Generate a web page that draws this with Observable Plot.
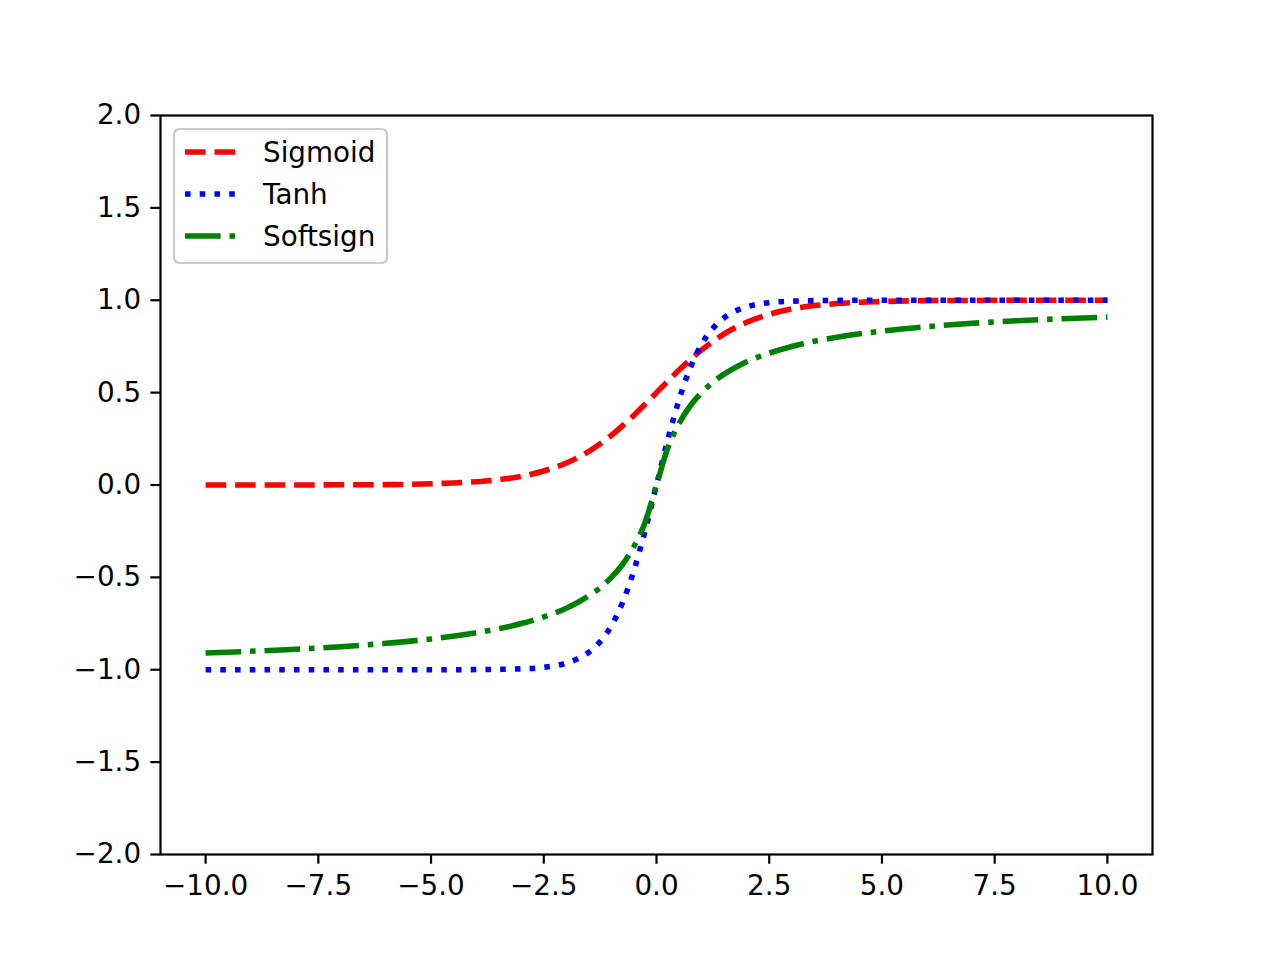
<!DOCTYPE html>
<html>
<head>
<meta charset="utf-8">
<script src="https://cdn.jsdelivr.net/npm/d3@7"></script>
<script src="https://cdn.jsdelivr.net/npm/@observablehq/plot@0.6"></script>
<style>
  html, body { margin: 0; padding: 0; background: #fff; }
  #wrap { position: relative; width: 1280px; height: 960px; font-family: "DejaVu Sans", sans-serif; }
  #legend { position: absolute; left: 0; top: 0; pointer-events: none; }
</style>
</head>
<body>
<div id="wrap"></div>
<script>
const xs = [-10, -9, -8, -7, -6, -5, -4, -3.5, -3, -2.5, -2, -1.75, -1.5, -1.25, -1, -0.75, -0.5, -0.25, 0,
            0.25, 0.5, 0.75, 1, 1.25, 1.5, 1.75, 2, 2.5, 3, 3.5, 4, 5, 6, 7, 8, 9, 10];
const sigmoid = [0.000, 0.000, 0.000, 0.001, 0.002, 0.007, 0.018, 0.029, 0.047, 0.076, 0.119, 0.148, 0.182, 0.223, 0.269, 0.321, 0.378, 0.438, 0.500,
                 0.562, 0.622, 0.679, 0.731, 0.777, 0.818, 0.852, 0.881, 0.924, 0.953, 0.971, 0.982, 0.993, 0.998, 0.999, 1.000, 1.000, 1.000];
const tanh = [-1.000, -1.000, -1.000, -1.000, -1.000, -1.000, -0.999, -0.998, -0.995, -0.987, -0.964, -0.941, -0.905, -0.848, -0.762, -0.635, -0.462, -0.245, 0.000,
              0.245, 0.462, 0.635, 0.762, 0.848, 0.905, 0.941, 0.964, 0.987, 0.995, 0.998, 0.999, 1.000, 1.000, 1.000, 1.000, 1.000, 1.000];
const softsign = [-0.909, -0.900, -0.889, -0.875, -0.857, -0.833, -0.800, -0.778, -0.750, -0.714, -0.667, -0.636, -0.600, -0.556, -0.500, -0.429, -0.333, -0.200, 0.000,
                  0.200, 0.333, 0.429, 0.500, 0.556, 0.600, 0.636, 0.667, 0.714, 0.750, 0.778, 0.800, 0.833, 0.857, 0.875, 0.889, 0.900, 0.909];
const seriesNames = ["Sigmoid", "Tanh", "Softsign"];
const xTicks = [-10, -7.5, -5, -2.5, 0, 2.5, 5, 7.5, 10];
const yTicks = [-2, -1.5, -1, -0.5, 0, 0.5, 1, 1.5, 2];

const LW = 5.56;
const styles = {
  Sigmoid:  { stroke: "#ff0000", dash: [20.6, 8.9] },
  Tanh:     { stroke: "#0000ff", dash: [5.56, 9.17] },
  Softsign: { stroke: "#008000", dash: [35.6, 8.9, 5.56, 8.9] }
};
const values = { Sigmoid: sigmoid, Tanh: tanh, Softsign: softsign };
const rows = seriesNames.flatMap(s => xs.map((x, i) => ({ x, y: values[s][i], series: s })));

const fmt = d3.format(".1f");
const FS = 27.8;

const chart = Plot.plot({
  width: 1280,
  height: 960,
  marginLeft: 160,
  marginRight: 128,
  marginTop: 115,
  marginBottom: 106,
  style: { fontFamily: "DejaVu Sans, sans-serif", color: "black", background: "white", overflow: "visible" },
  x: { domain: [-11, 11] },
  y: { domain: [-2, 2] },
  marks: [
    ...seriesNames.map(s => Plot.line(rows.filter(r => r.series === s), {
      x: "x", y: "y", stroke: styles[s].stroke, strokeWidth: LW,
      strokeDasharray: styles[s].dash.join(","), strokeLinecap: "butt", strokeLinejoin: "round",
      curve: "monotone-x"
    })),
    Plot.frame({ stroke: "black", strokeWidth: 2.2 }),
    Plot.axisX({ ticks: xTicks, tickFormat: fmt, tickSize: 9.7, tickPadding: 11.5, strokeWidth: 2.2, fontSize: FS, label: null }),
    Plot.axisY({ ticks: yTicks, tickFormat: fmt, tickSize: 9.7, tickPadding: 9.7, strokeWidth: 2.2, fontSize: FS, label: null })
  ]
});
const wrap = document.getElementById("wrap");
wrap.appendChild(chart);

// Legend overlay (upper left)
const leg = d3.select(wrap).append("svg").attr("id", "legend").attr("width", 1280).attr("height", 960);
const lx = 174, ly = 129, lw = 213, lh = 134;
leg.append("rect").attr("x", lx).attr("y", ly).attr("width", lw).attr("height", lh)
  .attr("rx", 5.5).attr("fill", "white").attr("fill-opacity", 0.8)
  .attr("stroke", "#cccccc").attr("stroke-width", 2.2);
seriesNames.forEach((s, i) => {
  const cy = ly + 23 + i * 42;
  leg.append("line").attr("x1", lx + 11).attr("x2", lx + 66.6).attr("y1", cy).attr("y2", cy)
    .attr("stroke", styles[s].stroke).attr("stroke-width", LW)
    .attr("stroke-dasharray", styles[s].dash.join(",")).attr("stroke-linecap", "butt");
  leg.append("text").attr("x", lx + 89).attr("y", cy).attr("dy", "0.36em")
    .attr("font-family", "DejaVu Sans, sans-serif").attr("font-size", FS).attr("fill", "black")
    .text(s);
});
</script>
</body>
</html>
